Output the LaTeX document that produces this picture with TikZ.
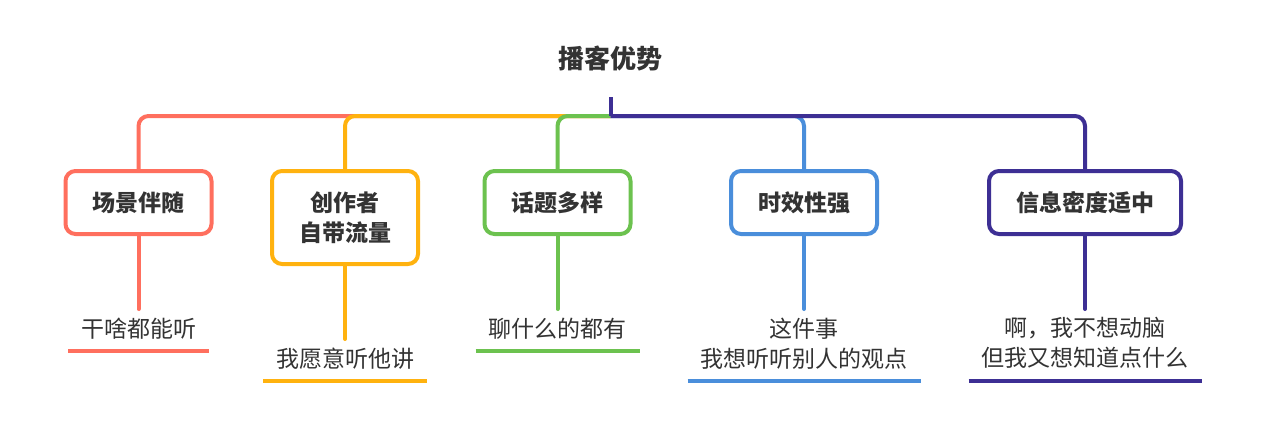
\documentclass[tikz,border=0pt]{standalone}
\usepackage{fontspec}
\newfontfamily\cjk{Noto Sans CJK SC}
\definecolor{cred}{HTML}{FF6F5E}
\definecolor{corange}{HTML}{FFB20F}
\definecolor{cgreen}{HTML}{6CC24F}
\definecolor{cblue}{HTML}{4A8EDB}
\definecolor{cpurple}{HTML}{3D2F94}
\definecolor{txt}{HTML}{333333}
\begin{document}
\begin{tikzpicture}[x=1pt,y=-1pt,
  br/.style={line width=4pt, rounded corners=10pt},
  box/.style={draw, line width=4pt, rounded corners=10pt, fill=white, text=txt,
    font=\cjk\bfseries\fontsize{23}{30}\selectfont, align=center, anchor=north,
    minimum height=63pt, minimum width=146pt, inner sep=0pt, outer sep=0pt},
  leaf/.style={text=txt, font=\cjk\fontsize{23}{30}\selectfont, align=center,
    anchor=north, inner xsep=13pt, inner ysep=8.6pt, outer sep=0pt},
  stem/.style={line width=4pt, line cap=round},
  uline/.style={line width=4pt}]
\useasboundingbox (0,0) rectangle (1271,444);
\node[text=txt, font=\cjk\bfseries\fontsize{26}{30}\selectfont] (title) at (610,58) {播客优势};
\coordinate (stub) at (610.5,97);
\coordinate (hub) at (610.5,116);
% boxes
\node[box, draw=cred] (b1) at (138.5,171) {场景伴随};
\node[box, draw=corange, minimum height=93pt] (b2) at (345,171) {创作者\\自带流量};
\node[box, draw=cgreen] (b3) at (557.5,171) {话题多样};
\node[box, draw=cblue] (b4) at (804,171) {时效性强};
\node[box, draw=cpurple, minimum width=192pt] (b5) at (1085,171) {信息密度适中};
% branches
\draw[br, cred] (hub) -| (b1.north);
\draw[br, corange] (hub) -| (b2.north);
\draw[br, cgreen] (hub) -| (b3.north);
\draw[br, cblue] (hub) -| (b4.north);
\draw[br, cpurple] (hub) -| (b5.north);
\draw[line width=4pt, cpurple] (stub) -- (hub);
% leaves
\node[leaf] (l1) at (138.5,309) {干啥都能听};
\node[leaf] (l2) at (345,339) {我愿意听他讲};
\node[leaf] (l3) at (557.5,309) {聊什么的都有};
\node[leaf] (l4) at (804,309) {这件事\\我想听听别人的观点};
\node[leaf] (l5) at (1085,309) {啊，我不想动脑\\但我又想知道点什么};
\draw[stem, cred] (b1.south) -- (l1.north);
\draw[stem, corange] (b2.south) -- (l2.north);
\draw[stem, cgreen] (b3.south) -- (l3.north);
\draw[stem, cblue] (b4.south) -- (l4.north);
\draw[stem, cpurple] (b5.south) -- (l5.north);
\draw[uline, cred] ([yshift=-3.5pt]l1.south west) -- ([yshift=-3.5pt]l1.south east);
\draw[uline, corange] ([yshift=-3.5pt]l2.south west) -- ([yshift=-3.5pt]l2.south east);
\draw[uline, cgreen] ([yshift=-3.5pt]l3.south west) -- ([yshift=-3.5pt]l3.south east);
\draw[uline, cblue] ([yshift=-3.5pt]l4.south west) -- ([yshift=-3.5pt]l4.south east);
\draw[uline, cpurple] ([yshift=-3.5pt]l5.south west) -- ([yshift=-3.5pt]l5.south east);
\end{tikzpicture}
\end{document}
